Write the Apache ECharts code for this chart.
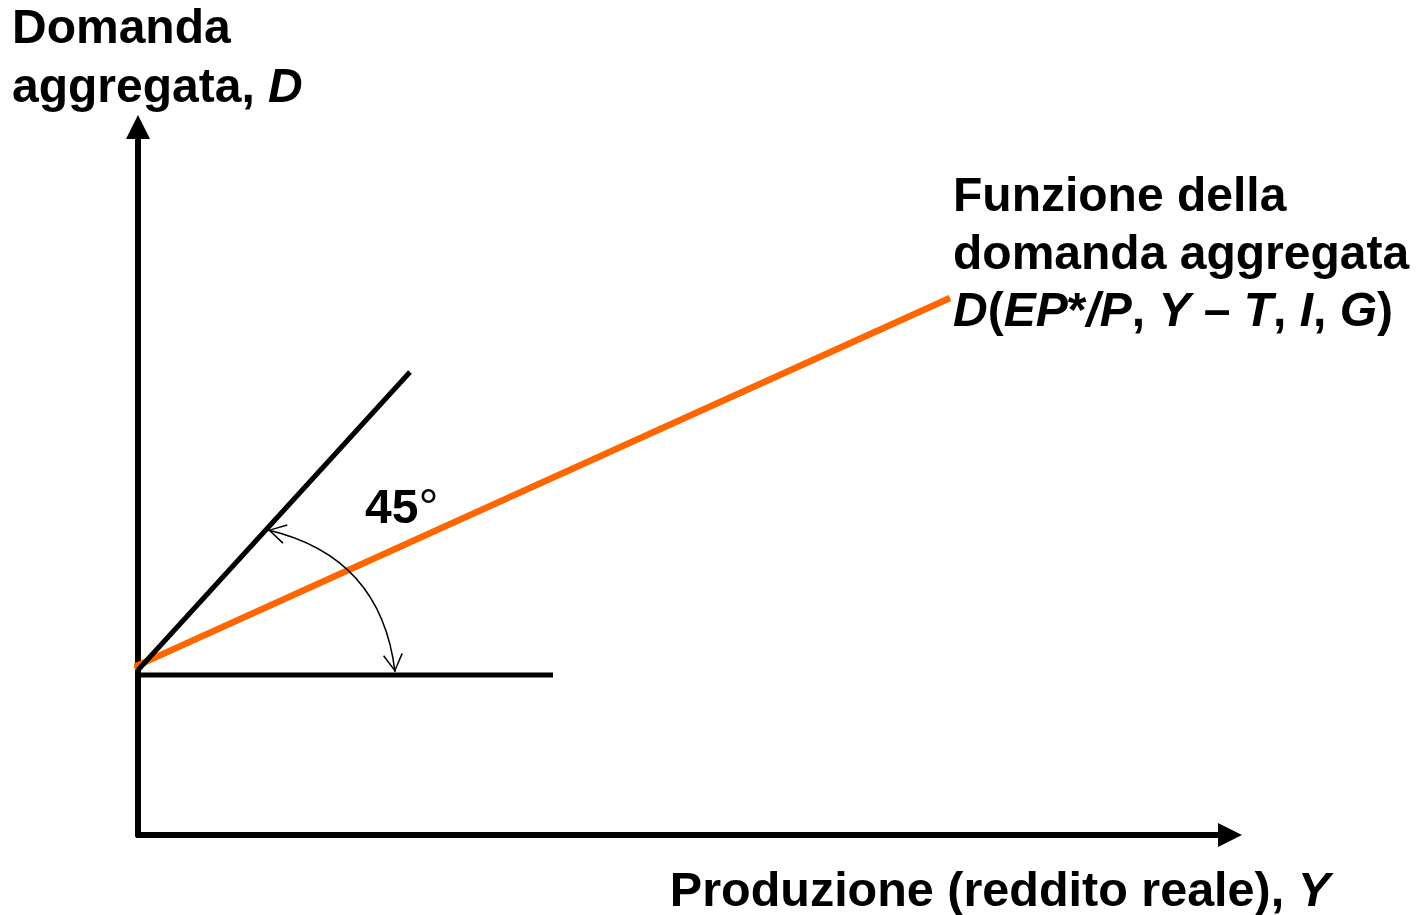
<!DOCTYPE html>
<html>
<head>
<meta charset="utf-8">
<script src="https://cdn.jsdelivr.net/npm/echarts@6/dist/echarts.min.js"></script>
<style>
html,body{margin:0;padding:0;background:#ffffff;}
#chart{width:1423px;height:915px;}
</style>
</head>
<body>
<div id="chart"></div>
<script>
// ---- data (abstract units) ----
const xExtent = [0, 109.2];
const yExtent = [0, 70.8];
const demandLine = [[-0.4, 16.8], [81.2, 53.7]];      // orange aggregate demand function
const fortyFiveLine = [[0, 16.5], [27.2, 46.3]];      // black 45-degree reference
const baseLine = [[0, 16.0], [41.5, 16.0]];           // horizontal reference
const angleArc = [[13.0, 30.5], [25.7, 16.3]];        // double-headed angle arc

// ---- texts ----
const yTitleLines = ['Domanda', '{n|aggregata, }{i|D}'];
const xTitle = '{x|Produzione (reddito reale), }{xi|Y}';
const angleText = '{n|45}{d|°}';
const demandLabelLines = [
  'Funzione della',
  'domanda aggregata',
  '{i|D}{n|(}{i|EP}{n|*}{i|/P}{n|, }{i|Y}{n| – }{i|T}{n|, }{i|I}{n|, }{i|G}{n|)}'
];

const FONT = '"Liberation Sans", Arial, Helvetica, sans-serif';
const FS = 48;
const rich = {
  n: {fontFamily: FONT, fontWeight: 'bold', fontSize: FS, fill: '#000'},
  i: {fontFamily: FONT, fontWeight: 'bold', fontStyle: 'italic', fontSize: FS, fill: '#000'},
  x: {fontFamily: FONT, fontWeight: 'bold', fontSize: 48.5, fill: '#000'},
  xi: {fontFamily: FONT, fontWeight: 'bold', fontStyle: 'italic', fontSize: 48.5, fill: '#000'},
  d: {fontFamily: FONT, fontWeight: 'normal', fontSize: 50, fill: '#000'}
};
function txt(x, y, text, align) {
  return {
    type: 'text', x: x, y: y, z: 100,
    style: {
      text: text, rich: rich,
      fontFamily: FONT, fontWeight: 'bold', fontSize: FS, fill: '#000',
      align: align || 'left', verticalAlign: 'middle'
    }
  };
}

const chevron = 'path://M0,-18L0.01,-18M0,0L10,17L8.7,17.9L0,2.6L-8.7,17.9L-10,17Z';

const chart = echarts.init(document.getElementById('chart'), null, {renderer: 'canvas'});
const option = {
  backgroundColor: '#ffffff',
  animation: false,
  grid: {left: 138, right: 193, top: 127, bottom: 80, containLabel: false},
  xAxis: {
    type: 'value', min: xExtent[0], max: xExtent[1],
    axisLine: {show: true, onZero: false, symbol: ['none', 'triangle'], symbolSize: [24, 24],
      lineStyle: {color: '#000', width: 6}},
    axisTick: {show: false}, axisLabel: {show: false}, splitLine: {show: false}
  },
  yAxis: {
    type: 'value', min: yExtent[0], max: yExtent[1],
    axisLine: {show: true, onZero: false, symbol: ['none', 'triangle'], symbolSize: [24, 24],
      lineStyle: {color: '#000', width: 6}},
    axisTick: {show: false}, axisLabel: {show: false}, splitLine: {show: false}
  },
  series: [
    {
      type: 'line', data: demandLine, clip: false, symbol: 'none', z: 2,
      lineStyle: {color: '#FF6600', width: 6.5}
    },
    {
      type: 'line', data: fortyFiveLine, clip: false, symbol: 'none', z: 3,
      lineStyle: {color: '#000', width: 5}
    },
    {
      type: 'line', data: baseLine, clip: false, symbol: 'none', z: 3,
      lineStyle: {color: '#000', width: 5}
    },
    {
      type: 'lines', coordinateSystem: 'cartesian2d', z: 4,
      symbol: [chevron, chevron], symbolSize: [[20, 36], [20, 36]],
      lineStyle: {color: '#000', width: 1.5, curveness: 0.35, opacity: 1},
      data: [{coords: angleArc}]
    }
  ],
  graphic: [
    txt(12, 30, yTitleLines[0]),
    txt(12, 89, yTitleLines[1]),
    txt(953, 198, demandLabelLines[0]),
    txt(953, 256, demandLabelLines[1]),
    txt(953, 313, demandLabelLines[2]),
    txt(365, 510, angleText),
    txt(1330, 893, xTitle, 'right')
  ]
};
chart.setOption(option);
</script>
</body>
</html>
